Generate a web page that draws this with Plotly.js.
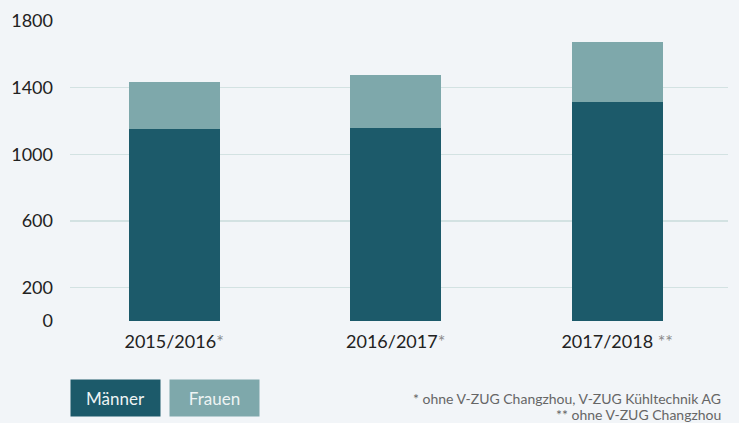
<!DOCTYPE html>
<html>
<head>
<meta charset="utf-8">
<script src="https://cdn.plot.ly/plotly-3.0.1.min.js"></script>
<style>html,body{margin:0;padding:0;background:#f2f5f8;}#chart{width:739px;height:423px;}</style>
</head>
<body>
<div id="chart"></div>
<script>
const categories = ["2015/2016", "2016/2017", "2017/2018"];
const categoryMarks = ["*", "*", " **"];
const maenner = [1150, 1160, 1317];
const frauen = [287, 318, 360];
const yTicks = [0, 200, 600, 1000, 1400, 1800];
const footnotes = ["* ohne V-ZUG Changzhou, V-ZUG Kühltechnik AG", "** ohne V-ZUG Changzhou"];

const darkColor = "#1c5a6a";
const lightColor = "#7ea8ab";

const traces = [
  {type: "bar", name: "Männer", x: [0,1,2], y: maenner, marker: {color: darkColor}, width: 0.41, hoverinfo: "y"},
  {type: "bar", name: "Frauen", x: [0,1,2], y: frauen, marker: {color: lightColor}, width: 0.41, hoverinfo: "y"}
];

const layout = {
  width: 739, height: 423,
  paper_bgcolor: "#f2f5f8", plot_bgcolor: "#f2f5f8",
  barmode: "stack",
  showlegend: false,
  margin: {l: 70, r: 11, t: 21, b: 102},
  font: {family: "Lato, sans-serif", size: 18, color: "#222"},
  xaxis: {
    range: [-0.47, 2.5],
    tickvals: [0,1,2],
    ticktext: categories.map((c,i) => c + '<span style="fill:#8a8a8a">' + categoryMarks[i] + '</span>'),
    showgrid: false, zeroline: false, showline: false,
    ticks: "", ticklabelstandoff: 8,
    tickfont: {size: 18, color: "#222"}
  },
  yaxis: {
    range: [0, 1800],
    tickvals: yTicks,
    showgrid: true, gridcolor: "#d3e2e2", gridwidth: 1.5,
    zeroline: false, showline: false,
    ticks: "", ticklabelstandoff: 16,
    tickfont: {size: 18, color: "#222"}
  },
  annotations: [
    {xref: "paper", yref: "paper", x: 0, y: -0.1933, xanchor: "left", yanchor: "top",
     text: "Männer", showarrow: false, bgcolor: darkColor, font: {color: "#eef4f4", size: 17},
     width: 89, height: 36, borderpad: 0},
    {xref: "paper", yref: "paper", x: 0.1505, y: -0.1933, xanchor: "left", yanchor: "top",
     text: "Frauen", showarrow: false, bgcolor: lightColor, font: {color: "#eef4f4", size: 17},
     width: 89, height: 36, borderpad: 0},
    {xref: "paper", yref: "paper", x: 0.9924, y: -0.2567, xanchor: "right", yanchor: "middle",
     text: footnotes[0], showarrow: false, font: {color: "#666", size: 14}},
    {xref: "paper", yref: "paper", x: 0.9924, y: -0.313, xanchor: "right", yanchor: "middle",
     text: footnotes[1], showarrow: false, font: {color: "#666", size: 14}}
  ]
};

Plotly.newPlot("chart", traces, layout, {displayModeBar: false, staticPlot: true});
</script>
</body>
</html>
